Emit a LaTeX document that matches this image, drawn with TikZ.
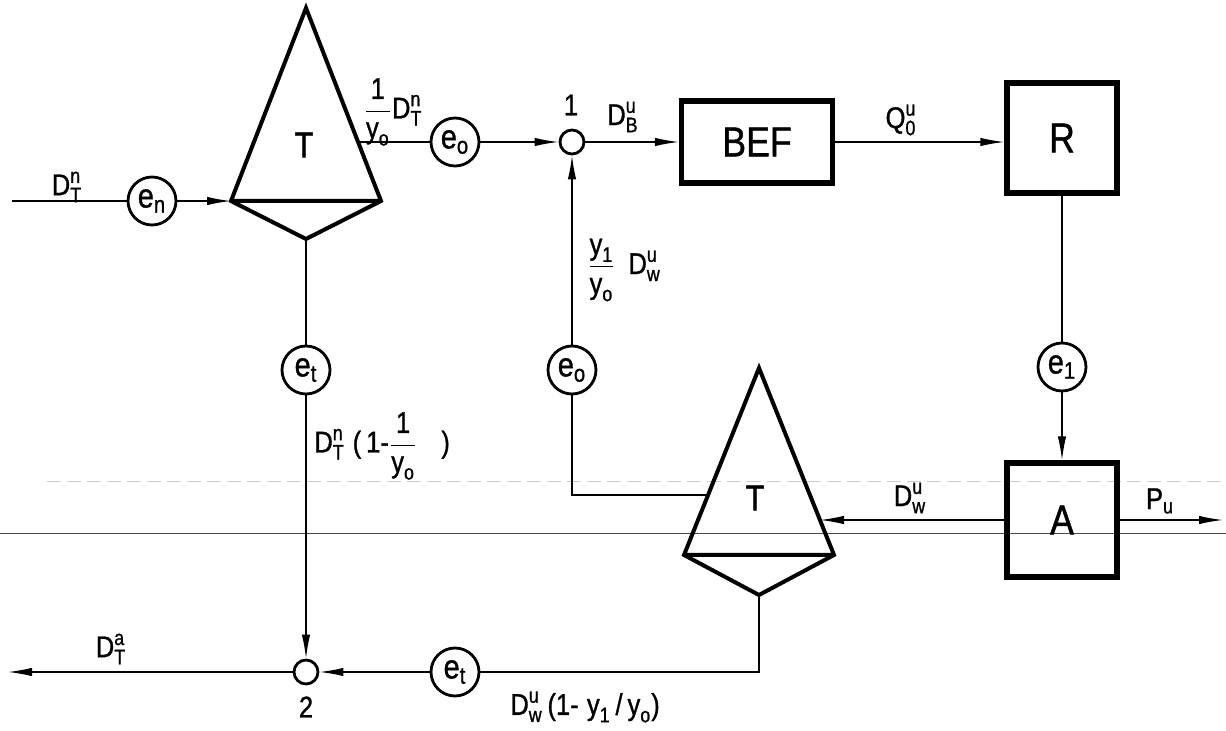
\documentclass[tikz,border=0pt]{standalone}
\usepackage{amsmath}
\usepackage{fontspec}
\setmainfont{Liberation Sans}[FakeStretch=0.85,FakeBold=1]
\usetikzlibrary{arrows.meta,calc}
\tikzset{
  conn/.style={line width=0.7pt},
  arr/.style={conn,-{Latex[length=12pt,width=4.2pt]}},
  ecirc/.style={circle,draw,line width=1.4pt,minimum size=24pt,inner sep=0pt,font=\fontsize{17}{17}\selectfont},
  junc/.style={circle,draw,line width=1.4pt,minimum size=12pt,inner sep=0pt},
  blk/.style={draw,line width=2.6pt,inner sep=0pt,font=\fontsize{21}{21}\selectfont},
  tri/.style={line width=2pt,line join=miter},
  trilbl/.style={font=\fontsize{18}{18}\selectfont},
  lbl/.style={font=\fontsize{15}{17}\selectfont,inner sep=1pt},
  scanline/.style={black!70,line width=0.5pt},
  scandash/.style={gray!40,line width=0.5pt,dash pattern=on 7pt off 3pt},
}
\begin{document}
\begin{tikzpicture}[x=0.5pt,y=-0.5pt]
\useasboundingbox (0,0) rectangle (1226,731);
% scan artefact lines
\draw[scandash] (47,482) -- (1226,482);
\draw[scanline] (0,534) -- (1226,534);

% upper splitter T
\coordinate (t1A) at (306,8);
\coordinate (t1L) at (231,201);
\coordinate (t1R) at (381,201);
\coordinate (t1B) at (306,239);
\coordinate (t1out) at (358,142);
\draw[tri] (t1A) -- (t1R) -- (t1B) -- (t1L) -- cycle (t1L) -- (t1R);
\node[trilbl] (t1) at (304,145) {T};

% lower splitter T
\coordinate (t2A) at (759,368);
\coordinate (t2L) at (684,555);
\coordinate (t2R) at (834,555);
\coordinate (t2B) at (759,595);
\coordinate (t2in) at (820,520);
\coordinate (t2out) at (708,495);
\draw[tri] (t2A) -- (t2R) -- (t2B) -- (t2L) -- cycle (t2L) -- (t2R);
\node[trilbl] (t2) at (755,498) {T};

% blocks
\node[blk,minimum width=75.5pt,minimum height=41pt] (bef) at (757,142) {BEF};
\node[blk,minimum width=55pt,minimum height=55pt] (r) at (1062,138) {R};
\node[blk,minimum width=55pt,minimum height=57pt] (a) at (1062,520) {A};

% circles
\node[ecirc] (en) at (152,201) {e\textsubscript{n}};
\node[ecirc] (eo1) at (455,142) {e\textsubscript{o}};
\node[ecirc] (et1) at (306,370) {e\textsubscript{t}};
\node[ecirc] (eo2) at (572,370) {e\textsubscript{o}};
\node[ecirc] (e1) at (1062,367) {e\textsubscript{1}};
\node[ecirc] (et2) at (455,672) {e\textsubscript{t}};
\node[junc] (j1) at (572,142) {};
\node[junc] (j2) at (306,672) {};

\coordinate (in) at (12,201);
\coordinate (out2) at (8,672);
\coordinate (pout) at (1223,520);

% connectors
\draw[conn] (in) -- (en.west);
\draw[arr] (en.east) -- (t1L);
\draw[conn] (t1out) -- (eo1.west);
\draw[arr] (eo1.east) -- (j1.west);
\draw[arr] (j1.east) -- (bef.west);
\draw[arr] (bef.east) -- (bef.east -| r.west);
\draw[conn] (r.south) -- (e1.north);
\draw[arr] (e1.south) -- (a.north);
\draw[arr] (a.west) -- (t2in);
\draw[arr] (a.east) -- (pout);
\draw[conn] (t2out) -| (eo2.south);
\draw[arr] (eo2.north) -- (j1.south);
\draw[conn] (t1B) -- (et1.north);
\draw[arr] (et1.south) -- (j2.north);
\draw[conn] (t2B) |- (et2.east);
\draw[arr] (et2.west) -- (j2.east);
\draw[arr] (j2.west) -- (out2);

% labels
\node[lbl] (l1) at (67,187) {$\text{D}^{\text{n}}_{\text{T}}$};
\node[lbl] (l2) at (393,112) {$\dfrac{\text{1}}{\text{y}_{\text{o}}}\text{D}^{\text{n}}_{\text{T}}$};
\node[lbl] (l3) at (571,105) {1};
\node[lbl] (l4) at (623,117) {$\text{D}^{\text{u}}_{\text{B}}$};
\node[lbl] (l5) at (901,120) {$\text{Q}^{\text{u}}_{\text{0}}$};
\node[lbl] (l6) at (624,270) {$\dfrac{\text{y}_{\text{1}}}{\text{y}_{\text{o}}}\;\,\text{D}^{\text{u}}_{\text{w}}$};
\node[lbl,anchor=west] (l7) at (312,446) {$\text{D}^{\text{n}}_{\text{T}}\;\text{(\,1-}\dfrac{\text{1}}{\text{y}_{\text{o}}}\;\;\;\text{)}$};
\node[lbl] (l8) at (910,498) {$\text{D}^{\text{u}}_{\text{w}}$};
\node[lbl] (l9) at (1160,501) {$\text{P}_{\text{u}}$};
\node[lbl] (l10) at (111,649) {$\text{D}^{\text{a}}_{\text{T}}$};
\node[lbl] (l11) at (306,707) {2};
\node[lbl,anchor=west] (l12) at (508,707) {$\text{D}^{\text{u}}_{\text{w}}\,\text{(1-\;y}_{\text{1}}\,\text{/\,y}_{\text{o}}\text{)}$};
\end{tikzpicture}
\end{document}
